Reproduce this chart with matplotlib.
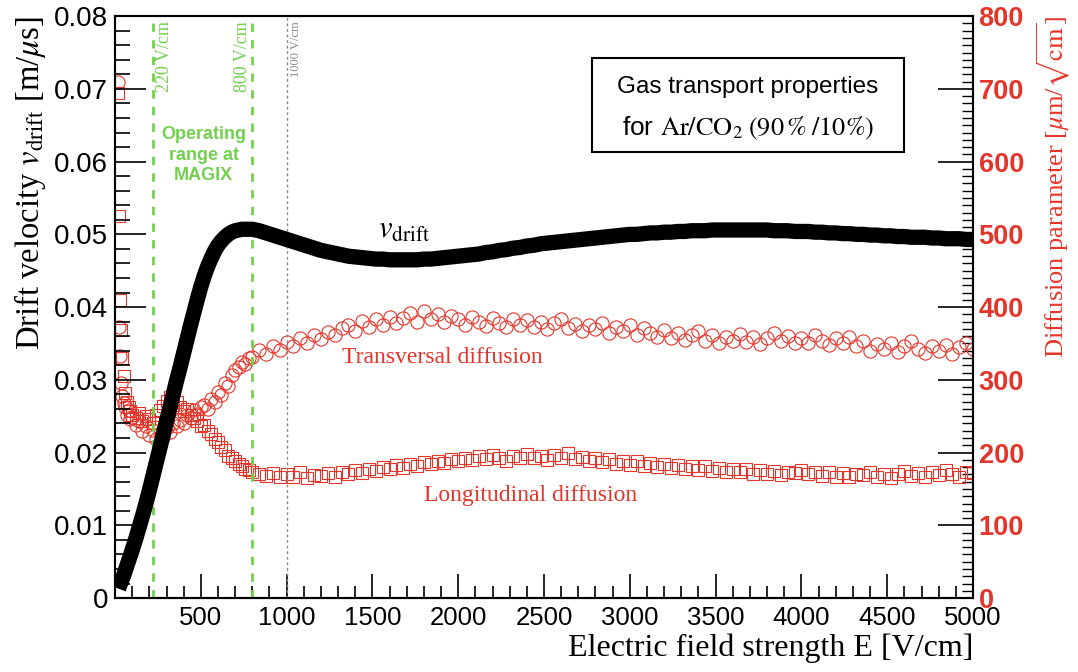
import numpy as np
import matplotlib
matplotlib.use("Agg")
import matplotlib.pyplot as plt
from matplotlib.patches import Rectangle
from matplotlib.ticker import MultipleLocator, FixedFormatter, FixedLocator

plt.rcParams["mathtext.fontset"] = "stix"

RED = "#e5352a"
GREEN = "#72d04e"
SANS = "Liberation Sans"
SERIF = "Liberation Serif"

# field grid [V/cm]: fine at low field, coarser above 800 V/cm
E_low = [20, 25, 30, 35, 40, 50, 60, 70, 80, 90, 100] + list(range(120, 800, 20))
E_high = list(range(800, 5001, 40))
E = np.array(E_low + E_high)

# drift velocity [m/us]
v_low = [0.0013, 0.0016, 0.0019, 0.0022, 0.0025, 0.0031, 0.0038, 0.0045, 0.0052, 0.0059, 0.0066,
         0.0081, 0.0097, 0.0113, 0.0130, 0.0148, 0.0167, 0.0186, 0.0205, 0.0224, 0.0243,
         0.0262, 0.0281, 0.0300, 0.0318, 0.0337, 0.0356, 0.0375, 0.0393, 0.0411, 0.0428,
         0.0443, 0.0456, 0.0467, 0.0477, 0.0485, 0.0491, 0.0496, 0.0500, 0.0503, 0.0505,
         0.0506, 0.0507, 0.0507, 0.0507]
v_high = [0.0507, 0.0505, 0.0502, 0.0499, 0.0496, 0.0493, 0.0490, 0.0487, 0.0484, 0.0481,
          0.0478, 0.0476, 0.0474, 0.0472, 0.0470, 0.0469, 0.0468, 0.0467, 0.0466, 0.0466,
          0.0465, 0.0465, 0.0465, 0.0465, 0.0465, 0.0466, 0.0466, 0.0467, 0.0468, 0.0469,
          0.0470, 0.0471, 0.0472, 0.0473, 0.0475, 0.0476, 0.0478, 0.0479, 0.0481, 0.0482,
          0.0484, 0.0485, 0.0487, 0.0488, 0.0489, 0.0490, 0.0491, 0.0492, 0.0493, 0.0494,
          0.0495, 0.0496, 0.0497, 0.0498, 0.0499, 0.0500, 0.0500, 0.0501, 0.0502, 0.0502,
          0.0503, 0.0503, 0.0504, 0.0504, 0.0505, 0.0505, 0.0505, 0.0506, 0.0506, 0.0506,
          0.0506, 0.0506, 0.0506, 0.0506, 0.0506, 0.0506, 0.0505, 0.0505, 0.0505, 0.0504,
          0.0504, 0.0504, 0.0503, 0.0503, 0.0502, 0.0502, 0.0501, 0.0501, 0.0500, 0.0500,
          0.0499, 0.0499, 0.0498, 0.0498, 0.0497, 0.0497, 0.0496, 0.0496, 0.0496, 0.0495,
          0.0495, 0.0494, 0.0494, 0.0494, 0.0493, 0.0493]

# transversal diffusion [um/sqrt(cm)]
dt_low = [710, 372, 333, 296, 278, 268, 262, 251, 258, 246, 249,
          238, 244, 229, 236, 224, 231, 218, 227, 222, 234,
          228, 241, 236, 245, 240, 252, 247, 258, 253, 262,
          266, 260, 274, 270, 283, 279, 295, 291, 306, 313,
          318, 324, 322, 330]
dt_high = [331, 341, 335, 347, 341, 352, 347, 357, 351, 361,
           356, 366, 361, 371, 376, 367, 381, 373, 384, 376,
           387, 378, 385, 392, 380, 395, 384, 390, 379, 388,
           384, 376, 387, 379, 374, 385, 378, 372, 383, 376,
           382, 373, 380, 370, 378, 384, 371, 377, 367, 375,
           370, 378, 365, 373, 367, 376, 362, 371, 365, 359,
           368, 357, 365, 355, 362, 367, 354, 361, 351, 359,
           354, 363, 352, 359, 349, 358, 364, 353, 360, 351,
           358, 350, 361, 354, 348, 357, 351, 359, 346, 354,
           340, 349, 342, 351, 338, 347, 353, 342, 337, 346,
           339, 348, 335, 345, 350, 342]

# longitudinal diffusion [um/sqrt(cm)]
dl_low = [695, 525, 410, 368, 330, 305, 282, 270, 262, 257, 252,
          247, 255, 243, 250, 246, 240, 252, 258, 264, 271,
          276, 266, 270, 262, 257, 260, 251, 248, 243, 236,
          238, 229, 226, 218, 214, 207, 203, 196, 193, 188,
          185, 181, 178, 176]
dl_high = [174, 171, 168, 172, 166, 170, 167, 173, 165, 169,
           168, 172, 166, 174, 170, 176, 172, 178, 175, 180,
           177, 183, 179, 185, 181, 187, 184, 189, 186, 191,
           188, 193, 190, 195, 191, 197, 192, 189, 196, 193,
           198, 192, 195, 190, 197, 193, 199, 191, 194, 189,
           193, 187, 191, 185, 189, 183, 188, 182, 186, 180,
           184, 179, 183, 177, 182, 176, 181, 175, 179, 174,
           178, 173, 177, 171, 176, 170, 175, 169, 174, 172,
           176, 170, 174, 168, 173, 167, 172, 166, 171, 169,
           173, 167, 171, 165, 170, 175, 168, 172, 166, 174,
           169, 176, 171, 167, 174, 172]

v_drift = np.array(v_low + v_high)
d_trans = np.array(dt_low + dt_high)
d_long = np.array(dl_low + dl_high)

fig = plt.figure(figsize=(10.78, 6.72), dpi=100)
ax = fig.add_axes([0.1067, 0.110, 0.7959, 0.866])
ax2 = ax.twinx()

ax.plot(E, v_drift, color="black", lw=11, solid_capstyle="butt", solid_joinstyle="round", zorder=3)
ax2.plot(E, d_trans, ls="none", marker="o", ms=9.5, mfc="none", mec=RED, mew=0.8, zorder=3)
ax2.plot(E, d_long, ls="none", marker="s", ms=8.5, mfc="none", mec=RED, mew=0.8, zorder=3)

for e0 in (220, 800):
    ax.axvline(e0, color=GREEN, lw=2, ls=(0, (3, 3)), zorder=2)
ax.axvline(1000, color="#888888", lw=1, ls=(0, (2, 2)), zorder=2)

ax.set_xlim(0, 5000)
ax.set_ylim(0, 0.08)
ax2.set_ylim(0, 800)

# ROOT-like ticks
xt = [500, 1000, 1500, 2000, 2500, 3000, 3500, 4000, 4500, 5000]
ax.xaxis.set_major_locator(FixedLocator(xt))
ax.xaxis.set_major_formatter(FixedFormatter([str(t) for t in xt]))
ax.xaxis.set_minor_locator(MultipleLocator(100))
ax.yaxis.set_major_locator(FixedLocator([0, 0.01, 0.02, 0.03, 0.04, 0.05, 0.06, 0.07, 0.08]))
ax.yaxis.set_major_formatter(FixedFormatter(["0", "0.01", "0.02", "0.03", "0.04", "0.05", "0.06", "0.07", "0.08"]))
ax.yaxis.set_minor_locator(MultipleLocator(0.002))
ax.tick_params(axis="x", which="major", direction="in", length=17, width=1.2, labelsize=18.5, pad=6, top=False)
ax.tick_params(axis="x", which="minor", direction="in", length=9, width=1.2, top=False)
ax.tick_params(axis="y", which="major", direction="in", length=22, width=1.2, labelsize=20, pad=5)
ax.tick_params(axis="y", which="minor", direction="in", length=11, width=1.2)
for lab in ax.get_xticklabels() + ax.get_yticklabels():
    lab.set_family(SANS)

ax2.yaxis.set_major_locator(MultipleLocator(100))
ax2.yaxis.set_minor_locator(MultipleLocator(10))
ax2.tick_params(axis="y", which="major", direction="in", length=25, width=1.2, labelsize=19.5,
                labelcolor=RED, pad=4)
ax2.tick_params(axis="y", which="minor", direction="in", length=8, width=1.0)
for lab in ax2.get_yticklabels():
    lab.set_family(SANS)
    lab.set_fontweight("bold")

for a in (ax, ax2):
    for s in a.spines.values():
        s.set_linewidth(1.5)

ax.set_xlabel("Electric field strength E [V/cm]", family=SERIF, fontsize=23, loc="right", labelpad=2)
ax.set_ylabel(r"Drift velocity $v_{\rm drift}$ [m/$\mu$s]", family=SERIF, fontsize=23.5, loc="top", labelpad=4)
ax2.set_ylabel(r"Diffusion parameter [$\mu$m/$\sqrt{\rm cm}$]", family=SERIF, fontsize=19, color=RED,
               loc="top", labelpad=8)

# annotations
ax.text(290, 0.0793, "220 V/cm", rotation=90, ha="center", va="top", color=GREEN, family=SERIF, fontsize=13)
ax.text(745, 0.0793, "800 V/cm", rotation=90, ha="center", va="top", color=GREEN, family=SERIF, fontsize=13)
ax.text(1055, 0.0793, "1000 V/cm", rotation=90, ha="center", va="top", color="#888888", family=SERIF, fontsize=9)
ax.text(516, 0.0609, "Operating\nrange at\nMAGIX", ha="center", va="center", color=GREEN, family=SANS,
        fontsize=13, fontweight="bold", linespacing=1.25)
ax.text(1682, 0.0506, r"$v_{\rm drift}$", ha="center", va="center", fontsize=22)
ax.text(1908, 0.0331, "Transversal diffusion", ha="center", va="center", color=RED, family=SERIF, fontsize=17)
ax.text(2419, 0.01416, "Longitudinal diffusion", ha="center", va="center", color=RED, family=SERIF, fontsize=17)

ax.add_patch(Rectangle((0.556, 0.766), 0.3636, 0.162, transform=ax.transAxes, fill=True,
                       facecolor="white", edgecolor="black", lw=1.5, zorder=5))
ax.text(0.7378, 0.878, "Gas transport properties", transform=ax.transAxes, ha="center", va="center",
        family=SANS, fontsize=17.5, zorder=6)
ax.text(0.7378, 0.8076, r"for $\mathrm{Ar/CO_2\;(90\,\%\;/10\%)}$", transform=ax.transAxes,
        ha="center", va="center", family=SANS, fontsize=19, zorder=6)

ax.set_zorder(ax2.get_zorder() + 1)
ax.patch.set_visible(False)

fig.savefig("out.png", dpi=100)
